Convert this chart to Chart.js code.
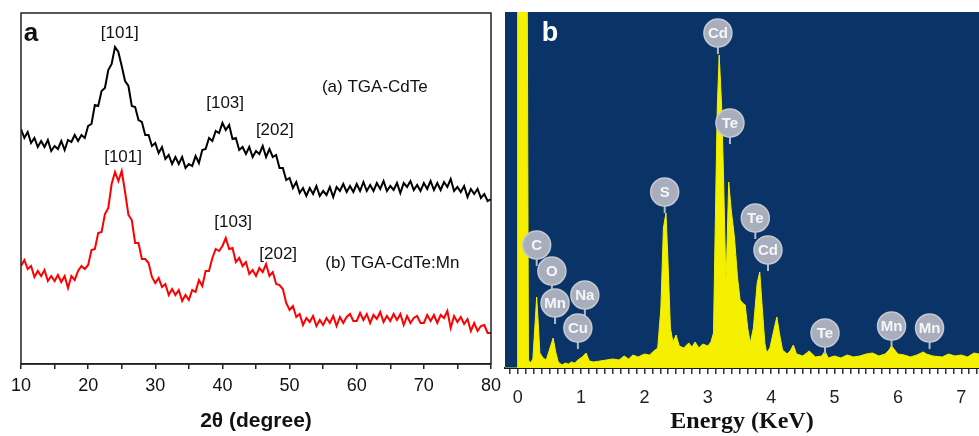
<!DOCTYPE html>
<html>
<head>
<meta charset="utf-8">
<script src="https://cdn.jsdelivr.net/npm/chart.js@4/dist/chart.umd.min.js"></script>
<style>
body { margin: 0; background: #fff; }
#wrap { position: relative; width: 979px; height: 436px; overflow: hidden; }
#xrd { position: absolute; left: 0; top: 0; }
#eds { position: absolute; left: 500px; top: 0; }
</style>
</head>
<body>
<div id="wrap">
<canvas id="xrd" width="510" height="436"></canvas>
<canvas id="eds" width="479" height="436"></canvas>
</div>
<script>
// ---- panel a : XRD patterns, sampled every 0.5 degree from 10 to 80 ----
const twoTheta = Array.from({ length: 141 }, (_, i) => 10 + i * 0.5);

const cdteCounts = [
  235, 226, 232, 221, 226, 217, 223, 217, 224, 213,
  218, 215, 223, 214, 224, 222, 229, 223, 229, 226,
  238, 240, 259, 258, 273, 276, 294, 300, 317, 312,
  298, 283, 278, 258, 257, 244, 242, 229, 229, 218,
  221, 211, 217, 205, 209, 200, 207, 200, 207, 196,
  200, 198, 208, 201, 214, 215, 226, 223, 233, 231,
  241, 234, 239, 225, 226, 214, 217, 210, 217, 207,
  213, 210, 218, 207, 215, 207, 209, 196, 196, 184,
  186, 176, 182, 171, 176, 168, 176, 170, 178, 168,
  173, 169, 177, 167, 177, 173, 180, 172, 178, 172,
  180, 173, 182, 173, 179, 173, 181, 175, 183, 173,
  178, 174, 181, 171, 181, 177, 183, 174, 179, 173,
  181, 175, 183, 174, 181, 174, 182, 177, 185, 173,
  177, 172, 178, 167, 175, 170, 175, 166, 170, 163,
  165
];

const cdteMnCounts = [
  98, 104, 95, 98, 87, 93, 88, 94, 83, 88,
  83, 89, 82, 88, 76, 88, 84, 93, 98, 95,
  99, 114, 115, 131, 132, 150, 156, 180, 192, 183,
  193, 172, 149, 144, 121, 121, 105, 105, 101, 87,
  81, 86, 77, 80, 69, 75, 69, 74, 63, 69,
  64, 74, 72, 84, 78, 93, 93, 106, 115, 113,
  118, 126, 115, 116, 102, 106, 98, 102, 90, 94,
  88, 96, 92, 100, 88, 92, 80, 79, 75, 61,
  54, 58, 47, 50, 39, 46, 42, 48, 38, 44,
  39, 46, 41, 48, 38, 47, 41, 47, 50, 43,
  43, 51, 44, 50, 41, 49, 45, 52, 42, 48,
  43, 50, 44, 50, 39, 48, 41, 46, 48, 41,
  41, 49, 43, 49, 41, 49, 46, 53, 36, 48,
  42, 47, 40, 45, 33, 41, 33, 38, 39, 31,
  31
];

const xrdTicks = [10, 20, 30, 40, 50, 60, 70, 80];
const xrdNoteText = ['[101]', '[103]', '[202]', '(a) TGA-CdTe', '[101]', '[103]', '[202]', '(b) TGA-CdTe:Mn'];
const xrdNoteX = [24.7, 40.4, 47.8, 62.7, 25.2, 41.6, 48.3, 65.3];
const xrdNoteY = [331, 261, 234, 277, 207, 142, 110, 101];

// ---- panel b : EDS spectrum ----
const energyKeV = [
  -0.2, -0.01, 0.0, 0.15, 0.17, 0.2, 0.24, 0.27, 0.30, 0.32,
  0.35, 0.4, 0.45, 0.5, 0.56, 0.6, 0.64, 0.7, 0.75, 0.8,
  0.85, 0.9, 0.95, 1.02, 1.08, 1.13, 1.2, 1.3, 1.4, 1.5,
  1.6, 1.68, 1.75, 1.82, 1.9, 2.0, 2.08, 2.15, 2.21, 2.26,
  2.3, 2.34, 2.37, 2.41, 2.45, 2.5, 2.55, 2.62, 2.7, 2.75,
  2.8, 2.86, 2.92, 3.0, 3.05, 3.09, 3.13, 3.15, 3.18, 3.22,
  3.25, 3.28, 3.29, 3.33, 3.37, 3.42, 3.47, 3.51, 3.55, 3.59,
  3.63, 3.67, 3.72, 3.78, 3.82, 3.86, 3.9, 3.93, 3.98, 4.05,
  4.09, 4.13, 4.18, 4.25, 4.3, 4.35, 4.4, 4.5, 4.6, 4.7,
  4.8, 4.85, 4.9, 5.0, 5.1, 5.2, 5.3, 5.4, 5.5, 5.6,
  5.7, 5.8, 5.86, 5.9, 5.95, 6.0, 6.1, 6.2, 6.3, 6.4,
  6.45, 6.55, 6.7, 6.8, 6.9, 7.0, 7.1, 7.2, 7.28
];
const edsCounts = [
  0, 0, 400, 400, 8, 5, 9, 40, 71, 50,
  15, 10, 8, 18, 30, 16, 6, 3, 5, 4,
  6, 5, 8, 11, 15, 7, 6, 7, 8, 9,
  8, 12, 9, 13, 11, 14, 13, 17, 20, 60,
  140, 155, 110, 40, 26, 33, 22, 20, 25, 21,
  26, 20, 24, 22, 26, 35, 188, 260, 313, 260,
  188, 100, 88, 186, 158, 131, 90, 68, 65, 63,
  40, 25, 40, 85, 96, 60, 25, 15, 20, 40,
  51, 35, 18, 14, 17, 23, 14, 12, 17, 11,
  12, 17, 10, 12, 10, 13, 11, 12, 14, 15,
  12, 14, 18, 22, 18, 14, 13, 11, 13, 16,
  14, 12, 11, 14, 12, 13, 11, 15, 14
];

const elementText = ['Cd', 'Te', 'S', 'Te', 'Cd', 'C', 'O', 'Mn', 'Na', 'Cu', 'Te', 'Mn', 'Mn'];
const elementKeV = [3.16, 3.35, 2.32, 3.75, 3.95, 0.30, 0.54, 0.59, 1.06, 0.95, 4.85, 5.9, 6.5];
const elementY = [335, 245, 176, 150, 118, 123, 97, 65, 73, 40, 35, 42, 40];

function pts(xs, ys) {
  return xs.map((v, i) => ({ x: v, y: ys[i] }));
}

const sans = '"Liberation Sans", Arial, sans-serif';

const xrdDecor = {
  id: 'xrdDecor',
  afterDatasetsDraw(chart) {
    const { ctx, chartArea: a, scales: { x, y } } = chart;
    ctx.save();
    ctx.strokeStyle = '#222';
    ctx.lineWidth = 1.5;
    ctx.strokeRect(a.left, a.top, a.right - a.left, a.bottom - a.top);
    ctx.fillStyle = '#111';
    ctx.textAlign = 'center';
    ctx.textBaseline = 'middle';
    ctx.font = '17px ' + sans;
    xrdNoteText.forEach((t, i) => {
      ctx.fillText(t, x.getPixelForValue(xrdNoteX[i]), y.getPixelForValue(xrdNoteY[i]));
    });
    ctx.font = 'bold 26px ' + sans;
    ctx.fillText('a', a.left + 10, a.top + 21);
    ctx.restore();
  }
};

new Chart(document.getElementById('xrd'), {
  type: 'line',
  data: {
    datasets: [
      { data: pts(twoTheta, cdteCounts), borderColor: '#000', borderWidth: 2 },
      { data: pts(twoTheta, cdteMnCounts), borderColor: '#ff0000', borderWidth: 2 }
    ]
  },
  options: {
    responsive: false,
    animation: false,
    devicePixelRatio: 1,
    layout: { padding: { left: 21, right: 19, top: 13, bottom: 0 } },
    elements: { point: { radius: 0 }, line: { tension: 0 } },
    plugins: { legend: { display: false }, tooltip: { enabled: false } },
    scales: {
      x: {
        type: 'linear', min: 10, max: 80,
        afterFit(s) { s.height = 72; s.paddingLeft = 0; s.paddingRight = 0; },
        afterBuildTicks(s) {
          s.ticks = [];
          for (let v = 10; v <= 80; v += 5) s.ticks.push({ value: v });
        },
        ticks: {
          autoSkip: false, maxRotation: 0, padding: 6, color: '#111',
          font: { family: sans, size: 18 },
          callback: v => xrdTicks.includes(v) ? String(v) : ''
        },
        grid: { drawOnChartArea: false, drawTicks: true, tickLength: 5, color: '#222', lineWidth: 1.5 },
        border: { color: '#222', width: 1.5 },
        title: {
          display: true, text: '2θ (degree)', color: '#111',
          font: { family: sans, size: 21, weight: 'bold' },
          padding: { top: 2, bottom: 2 }
        }
      },
      y: { display: false, min: 0, max: 351 }
    }
  },
  plugins: [xrdDecor]
});

const edsDecor = {
  id: 'edsDecor',
  beforeDatasetsDraw(chart) {
    const { ctx, chartArea: a } = chart;
    ctx.save();
    ctx.fillStyle = '#0a3468';
    ctx.fillRect(a.left, a.top, a.right - a.left, a.bottom - a.top);
    ctx.restore();
  },
  afterDatasetsDraw(chart) {
    const { ctx, chartArea: a, scales: { x, y } } = chart;
    ctx.save();
    const r = 14;
    elementText.forEach((t, i) => {
      const px = x.getPixelForValue(elementKeV[i]);
      const py = y.getPixelForValue(elementY[i]);
      ctx.strokeStyle = '#b4bac6';
      ctx.lineWidth = 2;
      ctx.beginPath();
      ctx.moveTo(px, py + r);
      ctx.lineTo(px, py + r + 7);
      ctx.stroke();
      ctx.beginPath();
      ctx.arc(px, py, r, 0, Math.PI * 2);
      ctx.fillStyle = '#a8aebb';
      ctx.fill();
      ctx.strokeStyle = '#c4c9d2';
      ctx.lineWidth = 1.5;
      ctx.stroke();
      ctx.fillStyle = '#f4f6fa';
      ctx.font = 'bold 15px "Liberation Sans Narrow", ' + sans;
      ctx.textAlign = 'center';
      ctx.textBaseline = 'middle';
      ctx.fillText(t, px, py + 1);
    });
    ctx.fillStyle = '#ffffff';
    ctx.font = 'bold 27px ' + sans;
    ctx.textAlign = 'center';
    ctx.textBaseline = 'middle';
    ctx.fillText('b', a.left + 45, a.top + 22);
    ctx.restore();
  }
};

new Chart(document.getElementById('eds'), {
  type: 'line',
  data: {
    datasets: [{
      data: pts(energyKeV, edsCounts),
      borderColor: '#f5f000', backgroundColor: '#f5f000',
      borderWidth: 1, fill: 'origin'
    }]
  },
  options: {
    responsive: false,
    animation: false,
    devicePixelRatio: 1,
    layout: { padding: { left: 5, right: 0, top: 12, bottom: 0 } },
    elements: { point: { radius: 0 }, line: { tension: 0 } },
    plugins: { legend: { display: false }, tooltip: { enabled: false } },
    scales: {
      x: {
        type: 'linear', min: -0.2, max: 7.28,
        afterFit(s) { s.height = 68; s.paddingLeft = 0; s.paddingRight = 0; },
        afterBuildTicks(s) {
          s.ticks = [];
          for (let k = -1; k <= 58; k++) s.ticks.push({ value: k * 0.125 });
        },
        ticks: {
          autoSkip: false, maxRotation: 0, padding: 13, color: '#222',
          font: { family: '"Liberation Sans Narrow", ' + sans, size: 18 },
          callback: v => Number.isInteger(v) ? String(v) : ''
        },
        grid: { drawOnChartArea: false, drawTicks: true, tickLength: 6, color: '#333', lineWidth: 1.5 },
        border: { color: '#1a1a1a', width: 2 },
        title: {
          display: true, text: 'Energy (KeV)', color: '#111',
          font: { family: '"Liberation Serif", "Times New Roman", serif', size: 24, weight: 'bold' },
          padding: { top: 0, bottom: 0 }
        }
      },
      y: { display: false, min: 0, max: 356 }
    }
  },
  plugins: [edsDecor]
});
</script>
</body>
</html>
